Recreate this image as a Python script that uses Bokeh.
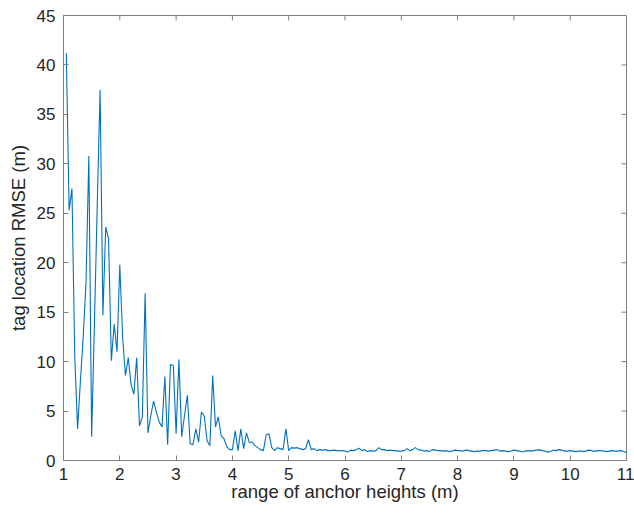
import math
from bokeh.plotting import figure
from bokeh.models import FixedTicker, Range1d, ColumnDataSource
from bokeh.embed import file_html
from bokeh.resources import INLINE

# ---- data ----
x_start = 1.05
x_step = 0.05
rmse = [
    41.2, 25.3, 27.5, 10.5, 3.2, 8.0, 12.5, 18.0, 30.8, 2.4,      # 1.05 - 1.50
    14.0, 26.0, 37.5, 14.7, 23.6, 22.4, 10.1, 13.8, 11.0, 19.8,   # 1.55 - 2.00
    12.5, 8.6, 10.4, 7.7, 6.7, 10.4, 3.5, 4.4, 16.9, 2.8,         # 2.05 - 2.50
    4.5, 6.0, 4.9, 3.9, 3.4, 8.5, 1.6, 9.7, 9.6, 2.7,             # 2.55 - 3.00
    10.2, 2.4, 4.6, 6.6, 1.7, 1.6, 3.2, 1.85, 4.9, 4.5,           # 3.05 - 3.50
    2.0, 1.5, 8.6, 3.4, 4.4, 2.5, 2.2, 1.4, 1.1, 1.1,             # 3.55 - 4.00
    3.0, 1.0, 3.2, 1.2, 2.8, 1.8, 1.9, 1.5, 1.3, 1.1,             # 4.05 - 4.50
    1.0, 2.6, 2.7, 1.3, 1.0, 1.3, 1.2, 1.1, 3.2, 1.0,             # 4.55 - 5.00
    1.3, 1.25, 1.3, 1.2, 1.1, 1.2, 2.1, 1.1, 1.2, 1.0,            # 5.05 - 5.50
    1.1, 1.05, 1.1, 1.0, 1.0, 1.05, 1.0, 1.0, 1.0, 0.95,          # 5.55 - 6.00
    0.85, 1.05, 1.0, 1.1, 1.25, 1.0, 1.1, 0.9, 1.0, 0.95,         # 6.05 - 6.50
    1.0, 1.3, 1.1, 1.1, 1.0, 1.05, 1.0, 1.0, 0.95, 0.95,          # 6.55 - 7.00
    1.0, 1.2, 1.0, 1.1, 1.3, 1.1, 1.05, 0.95, 1.0, 0.9,           # 7.05 - 7.50
    1.1, 1.05, 1.0, 1.0, 0.95, 1.0, 0.9, 0.95, 1.05, 1.0,         # 7.55 - 8.00
    1.0, 0.95, 1.05, 1.0, 0.95, 0.9, 0.95, 0.95, 1.0, 1.0,        # 8.05 - 8.50
    0.95, 1.0, 1.05, 1.1, 0.95, 1.0, 0.95, 0.9, 0.95, 1.05,       # 8.55 - 9.00
    1.0, 0.95, 0.85, 0.95, 1.0, 0.95, 1.0, 1.05, 1.1, 1.0,        # 9.05 - 9.50
    0.95, 0.85, 0.9, 1.05, 1.0, 1.1, 1.05, 0.95, 0.95, 1.0,       # 9.55 - 10.00
    0.95, 0.9, 0.95, 0.95, 0.9, 1.0, 1.05, 0.95, 0.95, 1.0,       # 10.05 - 10.50
    1.0, 0.95, 0.9, 0.95, 1.0, 0.95, 0.95, 1.0, 0.9, 0.85,        # 10.55 - 11.00
]
heights = [round(x_start + i * x_step, 2) for i in range(len(rmse))]
x_ticks = list(range(1, 12))
y_ticks = list(range(0, 50, 5))
x_min, x_max = 1, 11
y_min, y_max = 0, 45
x_label = "range of anchor heights (m)"
y_label = "tag location RMSE (m)"

FONT = "Liberation Sans"
TEXT = "#262626"
AXC = "#808080"

src = ColumnDataSource(dict(x=heights, y=rmse))

p = figure(width=634, height=518, output_backend="svg", toolbar_location=None,
           x_range=Range1d(x_min, x_max), y_range=Range1d(y_min, y_max),
           min_border_left=63, min_border_right=8, min_border_top=15,
           min_border_bottom=58)
p.grid.visible = False
p.outline_line_color = AXC
p.outline_line_width = 1
p.background_fill_color = "white"
p.border_fill_color = "white"

p.line("x", "y", source=src, line_color="#0072BD", line_width=1.1)

# inward ticks on the top and right edges of the box (clipped to the frame)
top_src = ColumnDataSource(dict(x=x_ticks, y=[y_max] * len(x_ticks)))
right_src = ColumnDataSource(dict(x=[x_max] * len(y_ticks), y=y_ticks))
p.scatter("x", "y", source=top_src, marker="dash", size=10, angle=math.pi / 2,
          line_color=AXC, line_width=1)
p.scatter("x", "y", source=right_src, marker="dash", size=10,
          line_color=AXC, line_width=1)


def style(ax, ticks):
    ax.ticker = FixedTicker(ticks=ticks)
    ax.major_tick_in = 5
    ax.major_tick_out = 0
    ax.minor_tick_in = 0
    ax.minor_tick_out = 0
    ax.axis_line_color = AXC
    ax.major_tick_line_color = AXC
    ax.major_label_text_font = FONT
    ax.major_label_text_color = TEXT
    ax.major_label_text_font_size = "17px"
    ax.axis_label_text_font = FONT
    ax.axis_label_text_color = TEXT
    ax.axis_label_text_font_style = "normal"
    ax.axis_label_text_font_size = "18.5px"


xa = p.xaxis[0]
ya = p.yaxis[0]
style(xa, x_ticks)
style(ya, y_ticks)
xa.axis_label = x_label
ya.axis_label = y_label
xa.major_label_standoff = 7
xa.axis_label_standoff = -2
ya.major_label_standoff = 8
ya.axis_label_standoff = 5

open("out.html", "w").write(file_html(p, INLINE))
